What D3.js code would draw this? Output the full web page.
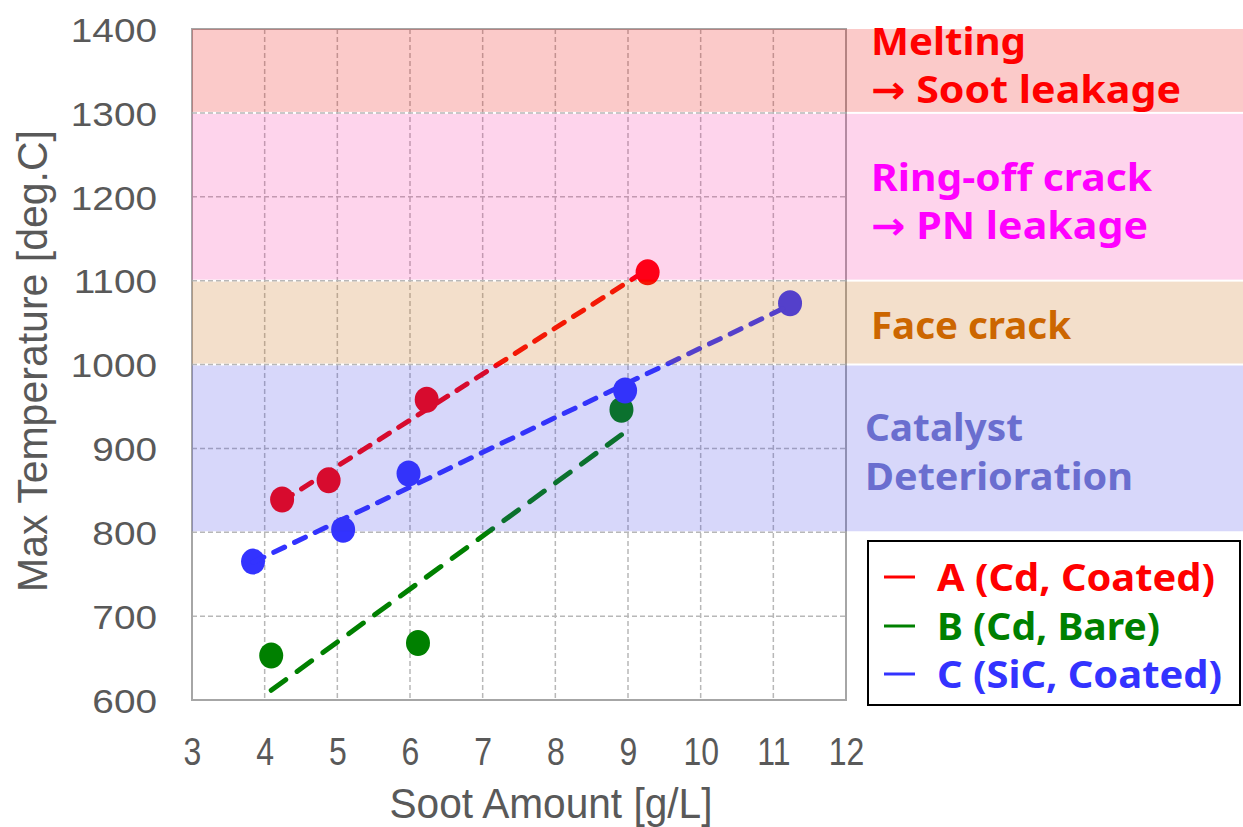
<!DOCTYPE html>
<html>
<head>
<meta charset="utf-8">
<script src="https://cdn.jsdelivr.net/npm/d3@7"></script>
<style>
  html, body { margin: 0; padding: 0; background: #ffffff; }
  svg { display: block; }
</style>
</head>
<body>
<svg id="chart" width="1243" height="827"></svg>
<script>
// Soot amount [g/L] vs. max temperature [deg.C] for three filter types
const sootA = [4.24, 4.88, 6.23, 9.27];
const tempA = [839, 862, 958, 1110];
const sootB = [4.09, 6.11, 8.91];
const tempB = [653, 668, 946];
const sootC = [3.84, 5.08, 5.98, 8.96, 11.23];
const tempC = [765, 803, 870, 969, 1073];

const seriesNames = ["A (Cd, Coated)", "B (Cd, Bare)", "C (SiC, Coated)"];
const seriesColors = ["#ff0000", "#008000", "#3333ff"];

const xTicks = [3, 4, 5, 6, 7, 8, 9, 10, 11, 12];
const yTicks = [600, 700, 800, 900, 1000, 1100, 1200, 1300, 1400];

// Failure-mode temperature bands
const bandLow = [1300, 1100, 1000, 800];
const bandHigh = [1400, 1300, 1100, 1000];
const bandLines = [
  ["Melting", "\u2192 Soot leakage"],
  ["Ring-off crack", "\u2192 PN leakage"],
  ["Face crack"],
  ["Catalyst", "Deterioration"]
];
const bandTextColors = ["#ff0000", "#ff00ff", "#cc6600", "#6a6ecf"];
// translucent overlays (colour, opacity) that tint whatever lies beneath
const bandFill = ["rgb(236,3,0)", "rgb(249,2,143)", "rgb(202,113,24)", "rgb(54,54,230)"];
const bandAlpha = [0.21, 0.17, 0.225, 0.2];

const svg = d3.select("#chart");
const W = 1243;
const plot = { left: 192, right: 846, top: 29, bottom: 700 };

const x = d3.scaleLinear().domain([3, 12]).range([plot.left, plot.right]);
const y = d3.scaleLinear().domain([600, 1400]).range([plot.bottom, plot.top]);

// rescale a text element horizontally (condensed / extended face)
function stretch(sel, factor) {
  sel.each(function () {
    const w = this.getComputedTextLength();
    d3.select(this).attr("textLength", w * factor).attr("lengthAdjust", "spacingAndGlyphs");
  });
}

// Grid
const grid = svg.append("g");
grid.selectAll("line.v").data(xTicks.slice(1, -1)).join("line")
  .attr("x1", d => x(d)).attr("x2", d => x(d))
  .attr("y1", plot.top).attr("y2", plot.bottom)
  .attr("stroke", "#b8b8b8").attr("stroke-width", 1.5).attr("stroke-dasharray", "5,3");
grid.selectAll("line.h").data(yTicks.slice(1, -1)).join("line")
  .attr("x1", plot.left).attr("x2", plot.right)
  .attr("y1", d => y(d)).attr("y2", d => y(d))
  .attr("stroke", "#b8b8b8").attr("stroke-width", 1.5).attr("stroke-dasharray", "5,3");

svg.append("rect")
  .attr("x", plot.left).attr("y", plot.top)
  .attr("width", plot.right - plot.left).attr("height", plot.bottom - plot.top)
  .attr("fill", "none").attr("stroke", "#a6a6a6").attr("stroke-width", 2);

// Axes labels (tick text only, no domain lines)
const xAxis = d3.axisBottom(x).tickValues(xTicks).tickFormat(d3.format("d")).tickSize(0).tickPadding(0);
const gx = svg.append("g").attr("transform", `translate(0,${plot.bottom})`).call(xAxis);
gx.select(".domain").remove();
gx.selectAll("text")
  .attr("y", 65).attr("dy", null)
  .attr("fill", "#595959")
  .style("font-family", "'Liberation Sans', Arial, sans-serif")
  .style("font-size", "39px")
  .call(stretch, 0.82);

const yAxis = d3.axisLeft(y).tickValues(yTicks).tickFormat(d3.format("d")).tickSize(0).tickPadding(0);
const gy = svg.append("g").attr("transform", `translate(157,0)`).call(yAxis);
gy.select(".domain").remove();
gy.selectAll("text")
  .attr("x", 0).attr("dy", "0.36em")
  .attr("fill", "#595959")
  .style("font-family", "'Liberation Sans', Arial, sans-serif")
  .style("font-size", "34px")
  .call(stretch, 1.14);

svg.append("text")
  .attr("x", 551).attr("y", 818)
  .attr("text-anchor", "middle")
  .attr("fill", "#595959")
  .attr("textLength", 323).attr("lengthAdjust", "spacingAndGlyphs")
  .style("font-family", "'Liberation Sans', Arial, sans-serif")
  .style("font-size", "42px")
  .text("Soot Amount [g/L]");

svg.append("text")
  .attr("transform", "translate(47,361) rotate(-90)")
  .attr("text-anchor", "middle")
  .attr("fill", "#595959")
  .attr("textLength", 462).attr("lengthAdjust", "spacingAndGlyphs")
  .style("font-family", "'Liberation Sans', Arial, sans-serif")
  .style("font-size", "43px")
  .text("Max Temperature [deg.C]");

// Series: markers, then least-squares trend lines on top
const series = [
  { xs: sootA, ys: tempA, dash: "12,11", w: 5 },
  { xs: sootB, ys: tempB, dash: "18,14", w: 5 },
  { xs: sootC, ys: tempC, dash: "12,11", w: 5 }
];

function fit(xs, ys) {
  const mx = d3.mean(xs), my = d3.mean(ys);
  const sxy = d3.sum(xs, (v, i) => (v - mx) * (ys[i] - my));
  const sxx = d3.sum(xs, v => (v - mx) * (v - mx));
  const b = sxy / sxx;
  return { b, a: my - b * mx };
}

const dataLayer = svg.append("g");
series.forEach((s, i) => {
  const pts = s.xs.map((v, j) => [v, s.ys[j]]);
  dataLayer.append("g").selectAll("ellipse").data(pts).join("ellipse")
    .attr("cx", d => x(d[0])).attr("cy", d => y(d[1]))
    .attr("rx", 12).attr("ry", 13)
    .attr("fill", seriesColors[i]);
});
series.forEach((s, i) => {
  const f = fit(s.xs, s.ys);
  const x0 = d3.min(s.xs), x1 = d3.max(s.xs);
  dataLayer.append("line")
    .attr("x1", x(x0)).attr("y1", y(f.a + f.b * x0))
    .attr("x2", x(x1)).attr("y2", y(f.a + f.b * x1))
    .attr("stroke", seriesColors[i]).attr("stroke-width", s.w)
    .attr("stroke-linecap", "round")
    .attr("stroke-dasharray", s.dash);
});

// Bands overlaid across plot and label column
const bands = svg.append("g");
bandLow.forEach((lo, i) => {
  const top = y(bandHigh[i]) + (i === 0 ? 0 : 1);
  const bot = y(lo) - 1;
  bands.append("rect")
    .attr("x", plot.left).attr("y", top)
    .attr("width", W - plot.left).attr("height", bot - top)
    .attr("fill", bandFill[i]).attr("fill-opacity", bandAlpha[i]);
});

// Band captions
const capFont = "'Noto Sans', 'DejaVu Sans', sans-serif";
const capX = [871, 871, 871, 865];
const capY = [[55, 103], [191, 239], [339], [441, 490]];
const capW = [[155, 310], [281, 277], [200], [158, 268]];
bandLines.forEach((lines, i) => {
  lines.forEach((t, j) => {
    svg.append("text")
      .attr("x", capX[i]).attr("y", capY[i][j])
      .attr("fill", bandTextColors[i])
      .attr("textLength", capW[i][j]).attr("lengthAdjust", "spacingAndGlyphs")
      .style("font-family", capFont)
      .style("font-weight", "bold")
      .style("font-size", "38px")
      .text(t);
  });
});

// Legend
const lg = svg.append("g");
lg.append("rect")
  .attr("x", 868).attr("y", 541).attr("width", 372).attr("height", 164)
  .attr("fill", "#ffffff").attr("stroke", "#000000").attr("stroke-width", 2);
const legendY = [577, 626, 674];
const legendW = [278, 223, 285];
seriesNames.forEach((n, i) => {
  lg.append("line")
    .attr("x1", 884).attr("x2", 915)
    .attr("y1", legendY[i]).attr("y2", legendY[i])
    .attr("stroke", seriesColors[i]).attr("stroke-width", 3);
  lg.append("text")
    .attr("x", 937).attr("y", legendY[i]).attr("dy", "0.36em")
    .attr("fill", seriesColors[i])
    .attr("textLength", legendW[i]).attr("lengthAdjust", "spacingAndGlyphs")
    .style("font-family", capFont)
    .style("font-weight", "bold")
    .style("font-size", "38px")
    .text(n);
});
</script>
</body>
</html>
